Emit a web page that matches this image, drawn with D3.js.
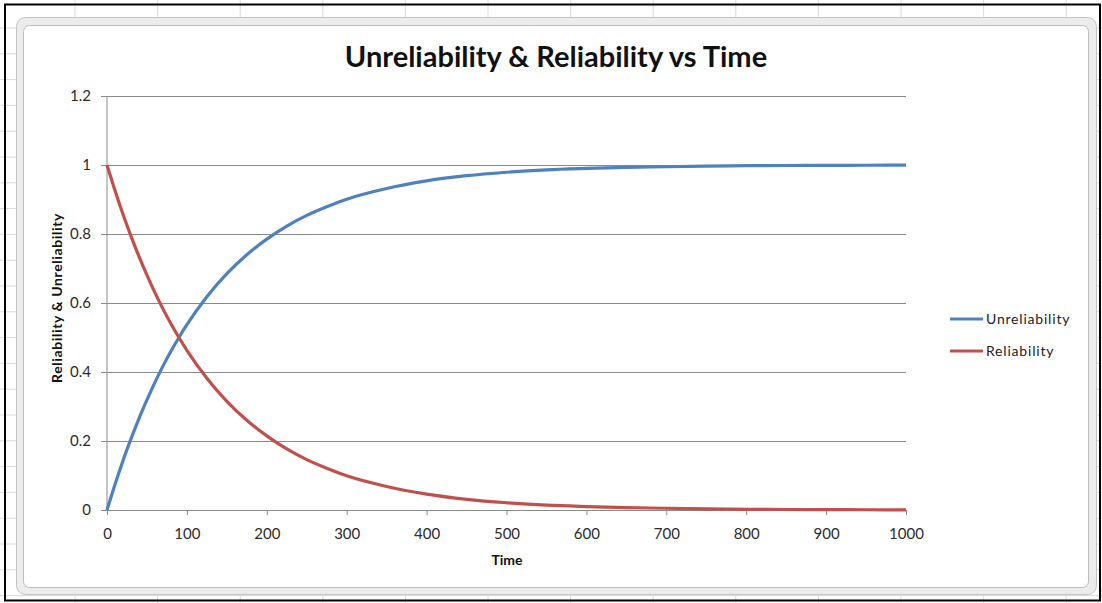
<!DOCTYPE html>
<html>
<head>
<meta charset="utf-8">
<script src="https://cdn.jsdelivr.net/npm/d3@7"></script>
<style>
  body { margin: 0; background: #fff; }
  text { font-family: Lato, "Open Sans", sans-serif; }
</style>
</head>
<body>
<script>
// values
var time = [0, 10, 20, 30, 40, 50, 60, 70, 80, 90, 100, 125, 150, 175, 200, 225, 250, 275, 300,
            350, 400, 450, 500, 550, 600, 650, 700, 750, 800, 850, 900, 950, 1000];
var unreliability = [0, 0.074, 0.143, 0.206, 0.265, 0.319, 0.370, 0.417, 0.460, 0.500, 0.537, 0.618, 0.685, 0.740, 0.785, 0.823, 0.854, 0.879, 0.901,
            0.932, 0.954, 0.969, 0.979, 0.986, 0.990, 0.993, 0.995, 0.997, 0.998, 0.9986, 0.999, 0.9993, 0.9995];
var reliability = [1, 0.926, 0.857, 0.794, 0.735, 0.681, 0.630, 0.583, 0.540, 0.500, 0.463, 0.382, 0.315, 0.260, 0.215, 0.177, 0.146, 0.121, 0.099,
            0.068, 0.046, 0.031, 0.021, 0.014, 0.010, 0.007, 0.005, 0.003, 0.002, 0.0014, 0.001, 0.0007, 0.0005];
var seriesNames = ['Unreliability', 'Reliability'];
var seriesColors = ['#4f81bd', '#c0504d'];
var xTicks = [0, 100, 200, 300, 400, 500, 600, 700, 800, 900, 1000];
var yTicks = [0, 0.2, 0.4, 0.6, 0.8, 1, 1.2];

w = 1102;
h = 603;

var svg = d3.select("body")
  .append("svg")
    .attr("width", w)
    .attr("height", h);

// spreadsheet grid behind the chart
var bg = svg.append("g");
for (var cx = 75; cx < w; cx += 82.6) {
  bg.append("line").attr("x1", cx).attr("x2", cx).attr("y1", 0).attr("y2", h)
    .attr("stroke", "#dadada");
}
for (var cy = 28; cy < h; cy += 25.8) {
  bg.append("line").attr("x1", 0).attr("x2", w).attr("y1", cy).attr("y2", cy)
    .attr("stroke", "#dadada");
}

// chart frame
svg.append("rect")
  .attr("x", 16.5).attr("y", 17.5).attr("width", 1080).attr("height", 577)
  .attr("rx", 9)
  .attr("fill", "#ececec").attr("stroke", "#c4c4c4");
svg.append("rect")
  .attr("x", 23.5).attr("y", 25.5).attr("width", 1065).attr("height", 562)
  .attr("rx", 6)
  .attr("fill", "#fff").attr("stroke", "#bdbdbd");

// outer black border
svg.append("rect")
  .attr("x", 5).attr("y", 4.5).attr("width", 1095).attr("height", 596)
  .attr("fill", "none").attr("stroke", "#000").attr("stroke-width", 2);

// chart stuff
var margin = {top: 96, left: 107},
    width = 906 - 107,
    height = 510 - 96;

var x = d3.scaleLinear().domain([0, 1000]).range([0, width]);
var y = d3.scaleLinear().domain([0, 1.2]).range([height, 0]);

var g = svg.append("g")
  .attr("transform", "translate(" + margin.left + "," + margin.top + ")");

// gridlines + y axis
var yAxis = g.append("g")
  .call(d3.axisLeft(y).tickValues(yTicks).tickSize(-width).tickSizeOuter(0)
        .tickFormat(function(d) { return String(+d.toFixed(1)); }));
yAxis.select(".domain").remove();
yAxis.selectAll(".tick line").attr("stroke", "#8a8a8a").attr("x1", -6);
yAxis.selectAll(".tick text")
  .attr("x", -16)
  .attr("fill", "#2b2b2b")
  .style("font-size", "15px")
  .style("font-family", "Lato, sans-serif");

g.append("line")
  .attr("x1", 0).attr("x2", 0).attr("y1", 0).attr("y2", height)
  .attr("stroke", "#8a8a8a");

// x axis
var xAxis = g.append("g")
  .attr("transform", "translate(0," + height + ")")
  .call(d3.axisBottom(x).tickValues(xTicks).tickSize(5).tickSizeOuter(0)
        .tickFormat(function(d) { return String(d); }));
xAxis.select(".domain").attr("stroke", "#8a8a8a");
xAxis.selectAll(".tick line").attr("stroke", "#8a8a8a");
xAxis.selectAll(".tick text")
  .attr("y", 18)
  .attr("fill", "#2b2b2b")
  .style("font-size", "15px")
  .style("font-family", "Lato, sans-serif");

// lines
var valueline = d3.line()
  .x(function(d) { return x(d.key); })
  .y(function(d) { return y(d.value); })
  .curve(d3.curveMonotoneX);

[unreliability, reliability].forEach(function(vals, i) {
  var result = time.map(function(t, j) { return {key: t, value: vals[j]}; });
  g.append("path")
    .datum(result)
    .attr("fill", "none")
    .attr("stroke", seriesColors[i])
    .attr("stroke-width", 3.2)
    .attr("d", valueline);
});

// title
svg.append("text")
  .attr("x", 556).attr("y", 67)
  .attr("text-anchor", "middle")
  .attr("fill", "#111")
  .style("font-size", "29px")
  .style("font-weight", "bold")
  .text("Unreliability & Reliability vs Time");

// axis titles
svg.append("text")
  .attr("x", 507).attr("y", 565)
  .attr("text-anchor", "middle")
  .attr("fill", "#111")
  .style("font-size", "14px")
  .style("font-weight", "bold")
  .text("Time");

svg.append("text")
  .attr("transform", "translate(62,298) rotate(-90)")
  .attr("text-anchor", "middle")
  .attr("fill", "#111")
  .style("font-size", "14px")
  .style("font-weight", "bold")
  .style("letter-spacing", "0.6px")
  .text("Reliability & Unreliability");

// legend
var legend = svg.append("g").attr("transform", "translate(950,319)");
seriesNames.forEach(function(name, i) {
  var row = legend.append("g").attr("transform", "translate(0," + (i * 32) + ")");
  row.append("line")
    .attr("x1", 0).attr("x2", 33)
    .attr("stroke", seriesColors[i]).attr("stroke-width", 3.2);
  row.append("text")
    .attr("x", 36).attr("y", 5)
    .attr("fill", "#222")
    .style("font-size", "14px")
    .style("letter-spacing", "0.8px")
    .text(name);
});
</script>
</body>
</html>
